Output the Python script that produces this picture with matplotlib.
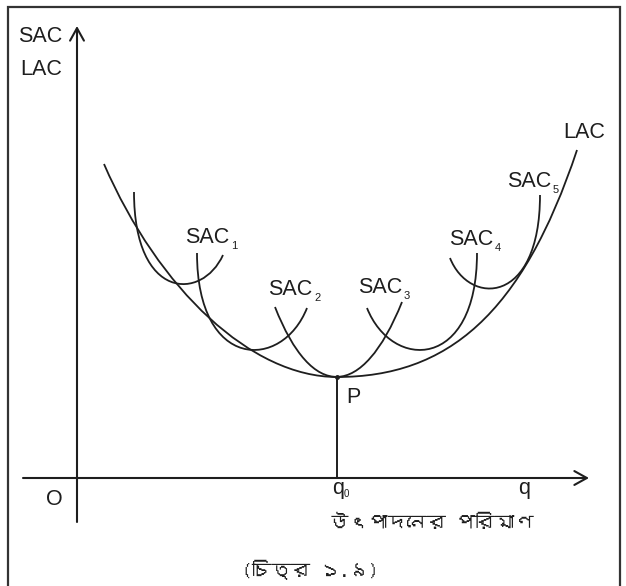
import matplotlib
matplotlib.use("Agg")
import matplotlib.pyplot as plt
from matplotlib.path import Path
from matplotlib.patches import PathPatch
from matplotlib import font_manager
from matplotlib.ft2font import FT2Font

# ---------------- data ----------------
# origin O at (0, 0); horizontal = output quantity, vertical = average cost
q0 = 260            # output at the minimum of LAC
p_cost = 101        # minimum long-run average cost (point P)

# LAC envelope, two cubic Bezier arcs (control points)
lac_left_q = [27, 82, 175, 260]
lac_left_c = [314, 187.5, 101, 101]
lac_right_q = [260, 370, 445, 500]
lac_right_c = [101, 101, 163, 328]

# short-run average cost curves, one cubic Bezier each (control points)
sac_q = [
    [57, 57, 125, 146],
    [120, 120, 205, 230],
    [198, 235, 285, 325],
    [290, 315, 400, 400],
    [373, 392, 463, 463],
]
sac_c = [
    [286, 177, 177, 223],
    [225, 107, 107, 170],
    [171, 77, 77, 176],
    [170, 107, 107, 225],
    [220, 172, 172, 283],
]
sac_names = ["1", "2", "3", "4", "5"]

y_title = ["SAC", "LAC"]
x_title = "উৎপাদনের পরিমাণ"
caption = "(চিত্র ১.৯)"

# ---------------- fonts ----------------
def find_bengali_font():
    for f in font_manager.fontManager.ttflist:
        try:
            cmap = FT2Font(f.fname).get_charmap()
        except Exception:
            continue
        if 0x0989 in cmap and 0x09AA in cmap and 0x09E7 in cmap:
            return f.name
    return None

bn = find_bengali_font()
bn_family = [bn, "DejaVu Sans"] if bn else ["DejaVu Sans"]
latin = "Liberation Sans"

# ---------------- figure ----------------
W, H = 626, 586
ox, oy = 77, 478   # pixel position of O
fig = plt.figure(figsize=(W / 100, H / 100), dpi=100)
ax = fig.add_axes([0, 0, 1, 1])
ax.set_xlim(-ox, W - ox)
ax.set_ylim(oy - H, oy)
ax.axis("off")

ink = "#1e1e1e"
lw_curve = 1.3

def bezier(qs, cs):
    verts = list(zip(qs, cs))
    codes = [Path.MOVETO] + [Path.CURVE4] * (len(verts) - 1)
    return PathPatch(Path(verts, codes), fc="none", ec=ink, lw=lw_curve,
                     capstyle="butt")

ax.add_patch(bezier(lac_left_q + lac_right_q[1:], lac_left_c + lac_right_c[1:]))
for qs, cs in zip(sac_q, sac_c):
    ax.add_patch(bezier(qs, cs))

# border (open at the bottom, as in the cropped original)
bx0, bx1, by1 = -69, 543, 471
ax.plot([bx0, bx0, bx1, bx1], [oy - H - 5, by1, by1, oy - H - 5],
        color="#333333", lw=1.6, solid_joinstyle="miter", clip_on=False)

# axes with arrows
arrow = dict(arrowstyle="->,head_length=0.45,head_width=0.25", lw=1.5,
             color=ink, shrinkA=0, shrinkB=0, mutation_scale=20)
ax.annotate("", xy=(0, 452), xytext=(0, -44), arrowprops=arrow)
ax.annotate("", xy=(512, 0), xytext=(-54, 0), arrowprops=arrow)

# vertical line from P to q0
ax.plot([q0, q0], [0, p_cost], color=ink, lw=1.4)
ax.plot([q0], [p_cost], "o", ms=2.5, color=ink)

fs = 15.5
sub_fs = 8
def lab(x, y, s, sub=None, **kw):
    t = ax.text(x, y, s, fontsize=fs, family=latin, color=ink,
                ha="left", va="baseline", **kw)
    if sub is not None:
        ax.text(x + 46, y - 6, sub, fontsize=sub_fs, family=latin,
                color=ink, ha="left", va="baseline")
    return t

lab(-59, 436, y_title[0])
lab(-57, 403, y_title[1])
lab(486, 340, "LAC")
sac_label_xy = [(108, 235), (191, 183), (281, 185), (372, 233), (430, 291)]
for (x, y), n in zip(sac_label_xy, sac_names):
    lab(x, y, "SAC", sub=n)
lab(269, 75, "P")
lab(-31, -27, "O")
ax.text(255, -16, "q", fontsize=fs, family=latin, color=ink,
        ha="left", va="baseline")
ax.text(267, -19, "0", fontsize=7, family=latin, color=ink,
        ha="left", va="baseline")
ax.text(441, -16, "q", fontsize=fs, family=latin, color=ink,
        ha="left", va="baseline")

ax.text(354, -44, x_title, fontsize=14, family=bn_family, color=ink,
        ha="center", va="center")
ax.text(233, -92, caption, fontsize=14, family=bn_family, color=ink,
        ha="center", va="center")

fig.savefig("out.png", dpi=100)
